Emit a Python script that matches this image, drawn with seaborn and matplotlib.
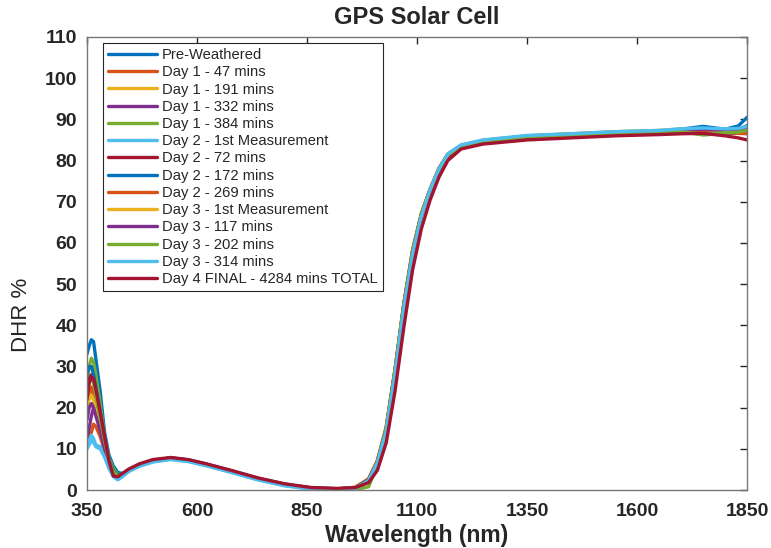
import numpy as np
import pandas as pd
import matplotlib
matplotlib.use("Agg")
import matplotlib.pyplot as plt
import seaborn as sns

# wavelength grid (nm)
wavelength = [350, 355, 360, 365, 370, 380, 390, 400, 410, 420, 430, 445, 470, 500,
              540, 580, 620, 680, 740, 800, 860, 920, 960, 990, 1010, 1030, 1050,
              1070, 1090, 1110, 1130, 1150, 1170, 1200, 1250, 1350, 1450, 1550,
              1650, 1700, 1750, 1800, 1830, 1850]

labels = ["Pre-Weathered", "Day 1 - 47 mins", "Day 1 - 191 mins", "Day 1 - 332 mins",
          "Day 1 - 384 mins", "Day 2 - 1st Measurement", "Day 2 - 72 mins",
          "Day 2 - 172 mins", "Day 2 - 269 mins", "Day 3 - 1st Measurement",
          "Day 3 - 117 mins", "Day 3 - 202 mins", "Day 3 - 314 mins",
          "Day 4 FINAL - 4284 mins TOTAL"]

pre_weathered = [33, 35, 36.5, 36, 32, 24, 14, 8.5, 5.8, 4.3, 4.0, 4.8, 6.2, 7.2, 7.8, 7.3, 6.3, 4.6, 2.8, 1.4, 0.5, 0.3, 0.6, 2.5, 7, 15, 29,
                 45, 58, 67, 73, 78, 81.5, 83.6, 84.8, 85.8, 86.3, 86.9, 87.1, 87.6, 88.3, 87.6, 88.4, 90.5]
d1_47 = [14, 13, 14, 16, 15.5, 13, 9.5, 6, 3.8, 2.8, 3.4, 4.7, 6.1, 7.1, 7.7, 7.2, 6.2, 4.5, 2.7, 1.3, 0.4, 0.2, 0.6, 2.6, 7, 15, 29,
         45, 58, 67, 73, 78, 81.5, 83.5, 84.7, 85.7, 86.2, 86.7, 86.9, 87.2, 87.4, 87.2, 87.0, 87.5]
d1_191 = [22, 24, 24, 22, 19, 15, 10.5, 6.5, 4.3, 3.2, 3.6, 4.8, 6.1, 7.1, 7.7, 7.2, 6.2, 4.5, 2.7, 1.3, 0.4, 0.2, 0.7, 2.8, 7.2, 15.5, 29.5,
          45.5, 58.5, 67.3, 73.2, 78.2, 81.6, 83.6, 84.8, 85.9, 86.4, 86.9, 87.2, 87.6, 87.5, 87.3, 87.2, 87.8]
d1_332 = [12, 15, 18, 20, 19, 15, 10.5, 6.5, 4.2, 3, 3.5, 4.7, 6.0, 7.0, 7.6, 7.1, 6.1, 4.4, 2.6, 1.2, 0.4, 0.2, 0.6, 2.6, 7, 15, 29,
          45, 58, 67, 73, 78, 81.4, 83.5, 84.7, 85.8, 86.3, 86.8, 87.0, 87.3, 87.5, 87.2, 87.0, 87.6]
d1_384 = [26, 30, 32, 31, 28, 21, 13, 7.8, 5.2, 3.8, 3.8, 4.8, 6.1, 7.1, 7.7, 7.2, 6.2, 4.5, 2.7, 1.3, 0.4, 0.1, 0.1, 0.8, 6, 14.5, 28.5,
          44.5, 57.5, 66.7, 72.8, 77.8, 81.3, 83.4, 84.6, 85.6, 86.1, 86.6, 86.8, 87.0, 86.2, 86.6, 86.8, 87.2]
d2_1st = [10, 12, 13.3, 12.5, 11, 10.5, 8.5, 5.5, 3.4, 2.6, 3.3, 4.6, 5.9, 6.9, 7.5, 7.0, 6.0, 4.3, 2.5, 1.1, 0.3, 0.1, 0.5, 2.5, 6.8, 14.5, 28.5,
          44.5, 57.5, 66.7, 73, 78, 81.5, 83.7, 84.9, 86.0, 86.5, 87.0, 87.3, 87.7, 87.8, 87.6, 87.5, 88.0]
d2_72 = [24, 27, 28, 27, 24, 18, 12, 6.5, 3.6, 2.9, 3.5, 4.8, 6.1, 7.1, 7.7, 7.2, 6.2, 4.5, 2.7, 1.3, 0.4, 0.2, 0.6, 2.4, 6.6, 14.5, 28.5,
         44.5, 57.5, 66.5, 72.6, 77.6, 81.1, 83.3, 84.5, 85.5, 86.0, 86.5, 86.7, 86.9, 87.0, 86.8, 86.6, 87.0]
d2_172 = [28, 30, 30, 28, 25, 19, 12.5, 7.2, 4.8, 3.6, 3.8, 4.9, 6.2, 7.2, 7.8, 7.3, 6.3, 4.6, 2.8, 1.4, 0.5, 0.3, 0.6, 2.5, 6.9, 15, 29,
          45, 58, 67, 73, 78, 81.5, 83.6, 84.8, 85.9, 86.3, 86.8, 87.0, 87.3, 87.5, 87.2, 87.4, 88.5]
d2_269 = [20, 24, 25, 23, 20, 15.5, 10.5, 6.3, 4.0, 2.9, 3.4, 4.7, 6.0, 7.0, 7.6, 7.1, 6.1, 4.4, 2.6, 1.2, 0.3, 0.2, 0.6, 2.6, 7, 15, 29,
          45, 58, 67, 73, 78, 81.5, 83.6, 84.8, 85.8, 86.2, 86.7, 86.9, 87.1, 87.3, 87.0, 86.6, 86.5]
d3_1st = [20, 22, 23, 22, 19, 15, 10.5, 6.5, 4.2, 3.1, 3.6, 4.8, 6.1, 7.1, 7.7, 7.2, 6.2, 4.5, 2.7, 1.3, 0.4, 0.2, 0.7, 2.7, 7.1, 15.3, 29.3,
          45.3, 58.3, 67.2, 73.1, 78.1, 81.6, 83.7, 84.9, 86.0, 86.5, 87.0, 87.3, 87.6, 87.6, 87.4, 87.3, 87.8]
d3_117 = [17, 20, 21, 20, 18, 14.5, 10, 6.2, 4.1, 3.0, 3.5, 4.7, 6.0, 7.0, 7.6, 7.1, 6.1, 4.4, 2.6, 1.2, 0.4, 0.2, 0.6, 2.6, 7, 15, 29,
          45, 58, 67, 73, 78, 81.5, 83.6, 84.8, 85.9, 86.4, 86.9, 87.1, 87.4, 87.6, 87.3, 87.4, 88.0]
d3_202 = [22, 26, 27, 26, 23, 17.5, 12, 6.9, 4.5, 3.4, 3.7, 4.8, 6.1, 7.1, 7.7, 7.2, 6.2, 4.5, 2.7, 1.3, 0.4, 0.2, 0.5, 2.3, 6.8, 14.8, 28.8,
          44.8, 57.8, 66.9, 72.9, 77.9, 81.4, 83.5, 84.7, 85.7, 86.2, 86.6, 86.9, 87.0, 86.4, 86.8, 86.9, 87.4]
d3_314 = [10, 11, 12, 11.5, 10.5, 10, 8, 5.2, 3.2, 2.5, 3.2, 4.5, 5.8, 6.8, 7.4, 6.9, 5.9, 4.2, 2.4, 1.0, 0.2, 0.1, 0.4, 2.3, 6.6, 14.3, 28.3,
          44.3, 57.3, 66.6, 73, 78, 81.6, 83.8, 85.0, 86.1, 86.5, 87.0, 87.3, 87.7, 87.9, 87.7, 87.8, 88.3]
d4_final = [22, 26, 27.5, 27, 24.5, 19, 13, 7, 3.4, 3.2, 4.0, 5.1, 6.4, 7.4, 7.9, 7.4, 6.4, 4.7, 2.9, 1.5, 0.6, 0.4, 0.6, 1.8, 4.8, 11.5, 24,
            39.5, 53.5, 63.5, 70.5, 76, 80, 82.8, 84.0, 85.0, 85.5, 86.0, 86.3, 86.5, 86.6, 86.0, 85.5, 85.0]

series = [pre_weathered, d1_47, d1_191, d1_332, d1_384, d2_1st, d2_72, d2_172,
          d2_269, d3_1st, d3_117, d3_202, d3_314, d4_final]

matlab_colors = ["#0072BD", "#D95319", "#EDB120", "#7E2F8E", "#77AC30", "#4DBEEE", "#A2142F"]
palette = [matlab_colors[i % 7] for i in range(len(labels))]

df = pd.concat([pd.DataFrame({"Wavelength": wavelength, "DHR": vals, "Series": name})
                for name, vals in zip(labels, series)], ignore_index=True)

sns.set_style("white")
plt.rcParams["font.family"] = ["Liberation Sans", "DejaVu Sans"]

fig = plt.figure(figsize=(7.71, 5.48), dpi=100)
ax = fig.add_axes([0.1128, 0.1058, 0.8562, 0.8267])

sns.lineplot(data=df, x="Wavelength", y="DHR", hue="Series", hue_order=labels,
             palette=palette, linewidth=2.4, sort=False, estimator=None, ax=ax)

ax.set_xlim(350, 1850)
ax.set_ylim(0, 110)
ax.set_xticks([350, 600, 850, 1100, 1350, 1600, 1850])
ax.set_yticks(np.arange(0, 111, 10))
ax.tick_params(direction="in", length=5, width=1, colors="#262626",
               top=True, right=True, labelsize=14)
ax.tick_params(axis="x", pad=9)
ax.tick_params(axis="y", pad=7)
for lab in ax.get_xticklabels() + ax.get_yticklabels():
    lab.set_fontweight("bold")
for sp in ax.spines.values():
    sp.set_color("#777777")
    sp.set_linewidth(1)

ax.set_title("GPS Solar Cell", fontsize=17, fontweight="bold", pad=9)
ax.set_xlabel("Wavelength (nm)", fontsize=16.5, fontweight="bold", labelpad=3)
ax.set_ylabel("DHR %", fontsize=16)
ax.yaxis.set_label_coords(-0.083, 0.386)

leg = ax.legend(loc="upper left", bbox_to_anchor=(0.024, 0.987), borderaxespad=0,
                fontsize=10.6, handlelength=3.3, labelspacing=0.22, borderpad=0.35,
                handletextpad=0.35, fancybox=False, framealpha=1)
leg.get_frame().set_edgecolor("#262626")
leg.get_frame().set_linewidth(0.8)

fig.savefig("out.png", dpi=100)
